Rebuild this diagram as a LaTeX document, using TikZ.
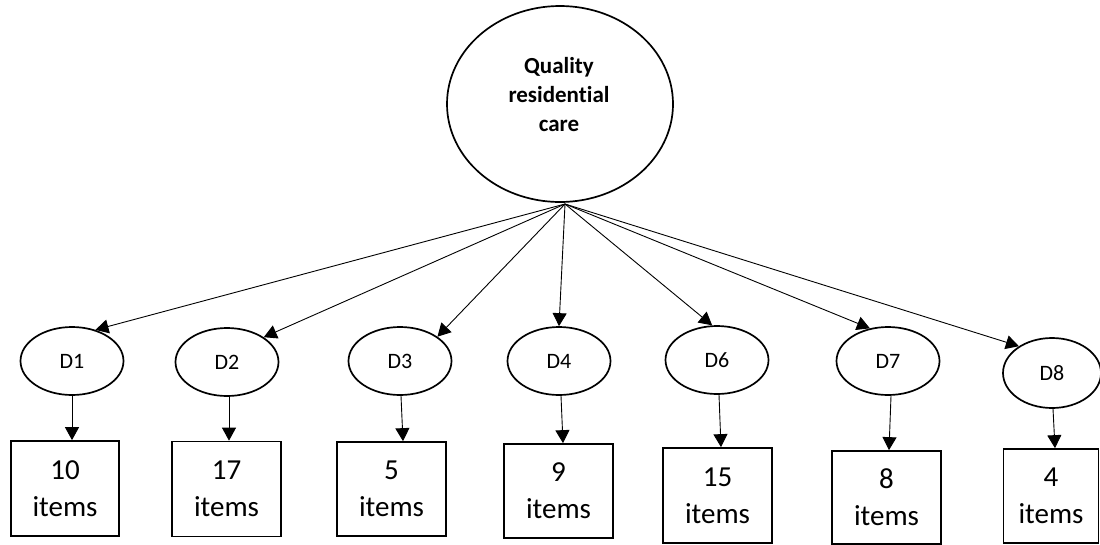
\documentclass[tikz,border=0pt]{standalone}
\usepackage{fontspec}
\setmainfont{Carlito}[Ligatures=NoCommon]
\usetikzlibrary{shapes.geometric,arrows.meta}
\begin{document}
\begin{tikzpicture}[x=1pt,y=-1pt,
  big/.style={ellipse,draw,line width=1.7pt,inner sep=0pt,minimum width=226pt,minimum height=196pt},
  dim/.style={ellipse,draw,line width=1.7pt,inner sep=0pt,minimum width=103pt,minimum height=68pt,font=\fontsize{22}{26}\selectfont},
  itembox/.style={rectangle,draw,line width=1.7pt,inner sep=0pt,minimum width=109pt,minimum height=95pt,align=center,font=\fontsize{29}{37}\selectfont},
  arr/.style={line width=0.9pt,-{Triangle[length=13pt,width=14pt]}}
]
\useasboundingbox (0,0) rectangle (1100,544);
\node[big] (q) at (560,104) {};
\node[align=center,font=\bfseries\fontsize{23}{29}\selectfont] (qt) at (559,95) {Quality\\residential\\care};
\coordinate (hub) at (565,204);

\node[dim] (d1) at (72,361) {D1};
\node[dim] (d2) at (227,362) {D2};
\node[dim] (d3) at (400,361) {D3};
\node[dim] (d4) at (559,361) {D4};
\node[dim] (d6) at (717,360) {D6};
\node[dim] (d7) at (888,361) {D7};
\node[dim,minimum width=98pt,minimum height=70pt] (d8) at (1052,373) {D8};

\node[itembox,minimum width=108pt] (b1) at (65,488.5) {10\\items};
\node[itembox] (b2) at (226.5,489) {17\\items};
\node[itembox,minimum height=94pt] (b3) at (391.5,489) {5\\items};
\node[itembox,minimum height=94pt] (b4) at (558.5,491) {9\\items};
\node[itembox] (b6) at (717.5,495.5) {15\\items};
\node[itembox,minimum height=93pt] (b7) at (886.5,497.5) {8\\items};
\node[itembox,minimum width=95pt,minimum height=94pt] (b8) at (1051,496) {4\\items};

\draw[arr] (hub) -- (d1.53);
\draw[arr] (hub) -- (d2.34);
\draw[arr] (hub) -- (d3.33);
\draw[arr] (hub) -- (d4.north);
\draw[arr] (hub) -- (d6.98);
\draw[arr] (hub) -- (d7.119);
\draw[arr] (hub) -- (d8.141);

\draw[arr] (d1.south) -- (d1.south |- b1.north);
\draw[arr] ([xshift=2pt]d2.south) -- ([xshift=2pt]d2.south |- b2.north);
\draw[arr] ([xshift=1pt]d3.south) -- ([xshift=3pt]d3.south |- b3.north);
\draw[arr] ([xshift=2pt]d4.south) -- ([xshift=4pt]d4.south |- b4.north);
\draw[arr] ([xshift=2pt]d6.south) -- ([xshift=4pt]d6.south |- b6.north);
\draw[arr] ([xshift=3pt]d7.south) -- ([xshift=1pt]d7.south |- b7.north);
\draw[arr] ([xshift=1pt]d8.south) -- ([xshift=3pt]d8.south |- b8.north);
\end{tikzpicture}
\end{document}
